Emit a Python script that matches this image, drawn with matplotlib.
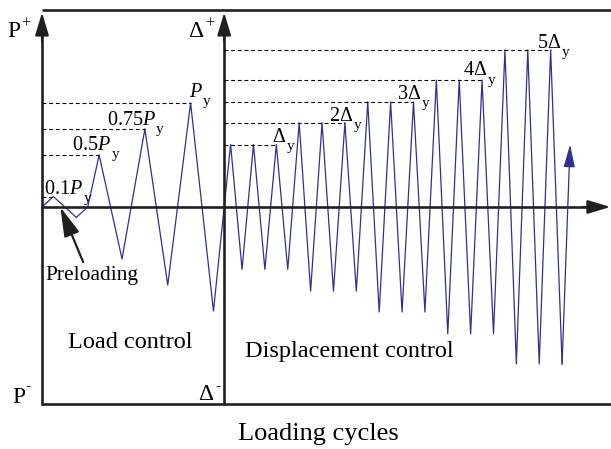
import numpy as np
import matplotlib.pyplot as plt

plt.rcParams['font.family'] = 'Liberation Serif'
plt.rcParams['mathtext.fontset'] = 'custom'
plt.rcParams['mathtext.rm'] = 'Liberation Serif'
plt.rcParams['mathtext.it'] = 'Liberation Serif:italic'

# load control stage, amplitudes as fractions of P_y
preload = 0.1
load_levels = [0.5, 0.75, 1.0]
load_labels = [r'$0.1P$', r'$0.5P$', r'$0.75P$', r'$P$']

# displacement control stage, drawn on the same vertical scale
disp_levels = [0.6, 0.81, 1.01, 1.22, 1.51]
disp_labels = [r'$\Delta$', r'$2\Delta$', r'$3\Delta$', r'$4\Delta$', r'$5\Delta$']
cycles_per_level = 3

BLUE = '#2e3192'
INK = '#231f20'
FRAME = 1.9
TOP = 1.89

# build the loading history
t = [0, 1, 3, 4]
v = [0, preload, -preload, 0]
s = 5
load_peaks = [(1, preload)]
for lv in load_levels:
    t += [s, s + 2]
    v += [lv, -lv]
    load_peaks.append((s, lv))
    s += 4
t_mid = t[-1] + 1.5 * v[-1] / (v[-1] - disp_levels[0])
s = t[-1] + 1.5
disp_peaks = []
for lv in disp_levels:
    for c in range(cycles_per_level):
        t += [s, s + 1]
        v += [lv, -lv]
        s += 2
    disp_peaks.append((s - 2, lv))

fig = plt.figure(figsize=(6.11, 4.49), dpi=100)
ax = fig.add_axes([0, 0, 1, 1])
ax.set_xlim(-3.675, 49.78)
ax.set_ylim(-2.327, 1.99)
ax.axis('off')
xmax = ax.get_xlim()[1]

ax.plot(t, v, color=BLUE, lw=0.9)
# last ramp ends with an arrow
end_v = disp_levels[0]
end_t = t[-1] + (end_v - v[-1]) / (2 * disp_levels[-1])
ax.annotate('', xy=(end_t, end_v), xytext=(t[-1], v[-1]),
            arrowprops=dict(arrowstyle='-|>,head_length=1.0,head_width=0.25',
                            mutation_scale=14, color=BLUE, lw=0.9,
                            shrinkA=0, shrinkB=0))

# frame and axes
ax.plot([0, xmax], [TOP, TOP], color=INK, lw=FRAME, solid_capstyle='butt')
ax.plot([0, xmax], [-TOP, -TOP], color=INK, lw=FRAME, solid_capstyle='butt')
ax.plot([0, 0], [-TOP, TOP - 0.1], color=INK, lw=FRAME)
ax.plot([t_mid, t_mid], [-TOP, TOP - 0.1], color=INK, lw=FRAME)
ax.plot([0, xmax - 1], [0, 0], color=INK, lw=FRAME)
arrow_kw = dict(arrowstyle='-|>,head_length=1.0,head_width=0.3',
                mutation_scale=14, color=INK, lw=1.5, shrinkA=0, shrinkB=0)
for x0 in (0, t_mid):
    ax.annotate('', xy=(x0, TOP - 0.02), xytext=(x0, TOP - 0.3), arrowprops=arrow_kw)
ax.annotate('', xy=(xmax - 0.05, 0), xytext=(xmax - 2.5, 0), arrowprops=arrow_kw)

# dashed reference levels
dash = dict(color='black', lw=0.8, ls=(0, (3.5, 2.5)))
for (pt, lv) in load_peaks:
    ax.plot([0, pt], [lv, lv], **dash)
for (pt, lv) in disp_peaks:
    ax.plot([t_mid, pt], [lv, lv], **dash)


def level_label(pt, lv, main, off, sub='y'):
    # main symbol above the dashed level, upright "y" dropped below it
    lab = ax.annotate(main, xy=(pt, lv), xytext=off, textcoords='offset points',
                      ha='left', va='baseline', fontsize=14.5)
    ax.annotate(sub, xy=(1, lv), xycoords=(lab, 'data'),
                xytext=(0.2, off[1] - 6), textcoords='offset points',
                ha='left', va='baseline', fontsize=11)


load_off = [(-6.5, 2), (-19.5, 3.5), (-27.5, 3), (-1.5, 4.5)]
for (pt, lv), lab, off in zip(load_peaks, load_labels, load_off):
    level_label(pt, lv, lab, off)
disp_off = [(-3, 2), (-11.5, 1.5), (-12, 2), (-13.5, 3.5), (-9.5, 1.5)]
for (pt, lv), lab, off in zip(disp_peaks, disp_labels, disp_off):
    level_label(pt, lv, lab, off)


def axis_name(x, y, main, sup, rise):
    lab = ax.text(x, y, main, fontsize=17, va='baseline')
    ax.annotate(sup, xy=(1, y), xycoords=(lab, 'data'),
                xytext=(0.5, rise), textcoords='offset points',
                ha='left', va='center', fontsize=11.5)


axis_name(-3.0, 1.63, 'P', '+', 10)
axis_name(t_mid - 3.15, 1.63, r'$\Delta$', '+', 10)
axis_name(-2.63, -1.885, 'P', '-', 12.5)
axis_name(t_mid - 2.28, -1.86, r'$\Delta$', '-', 10.5)

ax.annotate('', xy=(1.6, 0), xytext=(3.6, -0.53),
            arrowprops=dict(arrowstyle='-|>,head_length=1.5,head_width=0.4',
                            mutation_scale=12, color=INK, lw=1.6,
                            shrinkA=0, shrinkB=0))
ax.text(0.27, -0.704, 'Preloading', fontsize=15.5, va='baseline')
ax.text(7.7, -1.356, 'Load control', fontsize=17.5, ha='center', va='baseline')
ax.text(26.85, -1.44, 'Displacement control', fontsize=17.5, ha='center', va='baseline')
ax.text(24.15, -2.236, 'Loading cycles', fontsize=19, ha='center', va='baseline')

fig.savefig('out.png', dpi=100)
